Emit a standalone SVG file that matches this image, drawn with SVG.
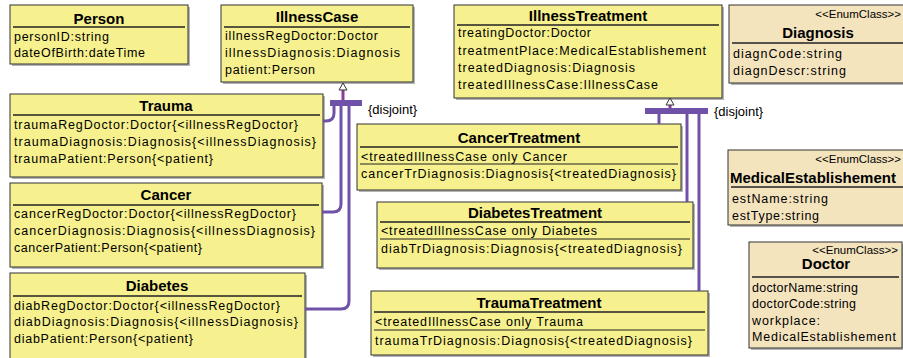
<svg xmlns="http://www.w3.org/2000/svg" width="903" height="358" viewBox="0 0 903 358">
<style>
.box{fill:#F6F08E;stroke:#333;stroke-width:1}
.enum{fill:#F4E4BE;stroke:#333;stroke-width:1}
.sh{fill:#b5b5b5}
.title{font-family:"Liberation Sans",Arial,sans-serif;font-size:15px;font-weight:bold;text-anchor:middle;fill:#000}
.attr{font-family:"Liberation Sans",Arial,sans-serif;font-size:12.5px;fill:#000}
.lbl{font-family:"Liberation Sans",Arial,sans-serif;font-size:11.5px;text-anchor:end;fill:#000}
.sep{stroke:#222;stroke-width:1.5}
.sep2{stroke:#222;stroke-width:1}
.conn{fill:none;stroke:#6F52A8;stroke-width:3}
.stem{stroke:#8E3C96;stroke-width:3}
.bar{fill:#6F52A8}
.tri{fill:#fff;stroke:#333;stroke-width:1}
.dj{font-family:"Liberation Sans",Arial,sans-serif;font-size:13px;fill:#000}
</style>
<rect width="903" height="358" fill="#fff"/>

<g id="Person">
<rect class="sh" x="12" y="7" width="178" height="59"/>
<rect class="box" x="10" y="5" width="178" height="59"/>
<text class="title" x="99" y="24">Person</text>
<line class="sep" x1="13" y1="27" x2="185" y2="27"/>
<text class="attr" x="14" y="41" textLength="95">personID:string</text>
<text class="attr" x="14" y="57" textLength="131">dateOfBirth:dateTime</text>
</g>

<g id="IllnessCase">
<rect class="sh" x="223" y="7" width="192" height="77"/>
<rect class="box" x="221" y="5" width="192" height="77"/>
<text class="title" x="317" y="22">IllnessCase</text>
<line class="sep" x1="224" y1="27" x2="410" y2="27"/>
<text class="attr" x="225" y="40" textLength="153">illnessRegDoctor:Doctor</text>
<text class="attr" x="225" y="57" textLength="175">illnessDiagnosis:Diagnosis</text>
<text class="attr" x="225" y="74" textLength="90">patient:Person</text>
</g>

<g id="IllnessTreatment">
<rect class="sh" x="456" y="7" width="268" height="93"/>
<rect class="box" x="454" y="5" width="268" height="93"/>
<text class="title" x="588" y="21">IllnessTreatment</text>
<line class="sep" x1="457" y1="25" x2="719" y2="25"/>
<text class="attr" x="458" y="37" textLength="133">treatingDoctor:Doctor</text>
<text class="attr" x="458" y="55" textLength="248">treatmentPlace:MedicalEstablishement</text>
<text class="attr" x="458" y="72" textLength="177">treatedDiagnosis:Diagnosis</text>
<text class="attr" x="458" y="89" textLength="200">treatedIllnessCase:IllnessCase</text>
</g>

<g id="Diagnosis">
<rect class="sh" x="731" y="7" width="180" height="78"/>
<rect class="enum" x="729" y="5" width="180" height="78"/>
<text class="lbl" x="901" y="18">&lt;&lt;EnumClass&gt;&gt;</text>
<text class="title" x="818" y="38">Diagnosis</text>
<line class="sep" x1="732" y1="43" x2="903" y2="43"/>
<text class="attr" x="733" y="58" textLength="109">diagnCode:string</text>
<text class="attr" x="733" y="75" textLength="113">diagnDescr:string</text>
</g>

<g id="Trauma">
<rect class="sh" x="12" y="96" width="313" height="83"/>
<rect class="box" x="10" y="94" width="313" height="83"/>
<text class="title" x="166" y="111">Trauma</text>
<line class="sep" x1="13" y1="115" x2="320" y2="115"/>
<text class="attr" x="14" y="129" textLength="284">traumaRegDoctor:Doctor{&lt;illnessRegDoctor}</text>
<text class="attr" x="14" y="146" textLength="302">traumaDiagnosis:Diagnosis{&lt;illnessDiagnosis}</text>
<text class="attr" x="14" y="163" textLength="199">traumaPatient:Person{&lt;patient}</text>
</g>

<g id="Cancer">
<rect class="sh" x="12" y="185" width="312" height="84"/>
<rect class="box" x="10" y="183" width="312" height="84"/>
<text class="title" x="166" y="200">Cancer</text>
<line class="sep" x1="13" y1="205" x2="319" y2="205"/>
<text class="attr" x="14" y="218" textLength="282">cancerRegDoctor:Doctor{&lt;illnessRegDoctor}</text>
<text class="attr" x="14" y="235" textLength="301">cancerDiagnosis:Diagnosis{&lt;illnessDiagnosis}</text>
<text class="attr" x="14" y="252" textLength="188">cancerPatient:Person{&lt;patient}</text>
</g>

<g id="Diabetes">
<rect class="sh" x="12" y="275" width="295" height="92"/>
<rect class="box" x="10" y="273" width="295" height="92"/>
<text class="title" x="157" y="291">Diabetes</text>
<line class="sep" x1="13" y1="296" x2="302" y2="296"/>
<text class="attr" x="14" y="310" textLength="266">diabRegDoctor:Doctor{&lt;illnessRegDoctor}</text>
<text class="attr" x="14" y="326" textLength="284">diabDiagnosis:Diagnosis{&lt;illnessDiagnosis}</text>
<text class="attr" x="14" y="343" textLength="179">diabPatient:Person{&lt;patient}</text>
</g>

<g id="CancerTreatment">
<rect class="sh" x="359" y="126" width="324" height="66"/>
<rect class="box" x="357" y="124" width="324" height="66"/>
<text class="title" x="519" y="143">CancerTreatment</text>
<line class="sep" x1="360" y1="147" x2="678" y2="147"/>
<text class="attr" x="361" y="161" textLength="206">&lt;treatedIllnessCase only Cancer</text>
<line class="sep2" x1="360" y1="164" x2="678" y2="164"/>
<text class="attr" x="361" y="178" textLength="315">cancerTrDiagnosis:Diagnosis{&lt;treatedDiagnosis}</text>
</g>

<g id="DiabetesTreatment">
<rect class="sh" x="379" y="204" width="316" height="66"/>
<rect class="box" x="377" y="202" width="316" height="66"/>
<text class="title" x="535" y="218">DiabetesTreatment</text>
<line class="sep" x1="380" y1="222" x2="690" y2="222"/>
<text class="attr" x="381" y="235" textLength="216">&lt;treatedIllnessCase only Diabetes</text>
<line class="sep2" x1="380" y1="239" x2="690" y2="239"/>
<text class="attr" x="381" y="253" textLength="301">diabTrDiagnosis:Diagnosis{&lt;treatedDiagnosis}</text>
</g>

<g id="TraumaTreatment">
<rect class="sh" x="373" y="293" width="337" height="64"/>
<rect class="box" x="371" y="291" width="337" height="64"/>
<text class="title" x="539" y="308">TraumaTreatment</text>
<line class="sep" x1="374" y1="312" x2="705" y2="312"/>
<text class="attr" x="375" y="326" textLength="208">&lt;treatedIllnessCase only Trauma</text>
<line class="sep2" x1="374" y1="330" x2="705" y2="330"/>
<text class="attr" x="375" y="345" textLength="317">traumaTrDiagnosis:Diagnosis{&lt;treatedDiagnosis}</text>
</g>

<g id="MedicalEstablishement">
<rect class="sh" x="730" y="152" width="180" height="75"/>
<rect class="enum" x="728" y="150" width="180" height="75"/>
<text class="lbl" x="901" y="163">&lt;&lt;EnumClass&gt;&gt;</text>
<text class="title" x="730" y="183" style="text-anchor:start">MedicalEstablishement</text>
<line class="sep" x1="731" y1="187" x2="903" y2="187"/>
<text class="attr" x="732" y="203" textLength="96">estName:string</text>
<text class="attr" x="732" y="220" textLength="87">estType:string</text>
</g>

<g id="Doctor">
<rect class="sh" x="751" y="244" width="153" height="106"/>
<rect class="enum" x="749" y="242" width="153" height="106"/>
<text class="lbl" x="898" y="254">&lt;&lt;EnumClass&gt;&gt;</text>
<text class="title" x="826" y="269">Doctor</text>
<line class="sep" x1="752" y1="277" x2="899" y2="277"/>
<text class="attr" x="752" y="292" textLength="106">doctorName:string</text>
<text class="attr" x="752" y="308" textLength="104">doctorCode:string</text>
<text class="attr" x="752" y="325" textLength="68">workplace:</text>
<text class="attr" x="752" y="341" textLength="144">MedicalEstablishement</text>
</g>

<g id="connectors">
<line class="stem" x1="343" y1="90" x2="343" y2="100"/>
<polygon class="tri" points="343,83 339,90 347,90"/>
<rect class="bar" x="330" y="100" width="32" height="6"/>
<path class="conn" d="M334 106 V113 Q334 121 326 121 H323"/>
<path class="conn" d="M341 106 V204 Q341 212 333 212 H322"/>
<path class="conn" d="M349 106 V301 Q349 309 341 309 H305"/>
<text class="dj" x="368" y="114">{disjoint}</text>

<line class="stem" x1="670" y1="105" x2="670" y2="108"/>
<polygon class="tri" points="670,98 666,105 674,105"/>
<rect class="bar" x="645" y="108" width="63" height="6"/>
<path class="conn" d="M659 114 V124"/>
<path class="conn" d="M687 114 V202"/>
<path class="conn" d="M699 114 V291"/>
<text class="dj" x="714" y="116">{disjoint}</text>
</g>
</svg>
